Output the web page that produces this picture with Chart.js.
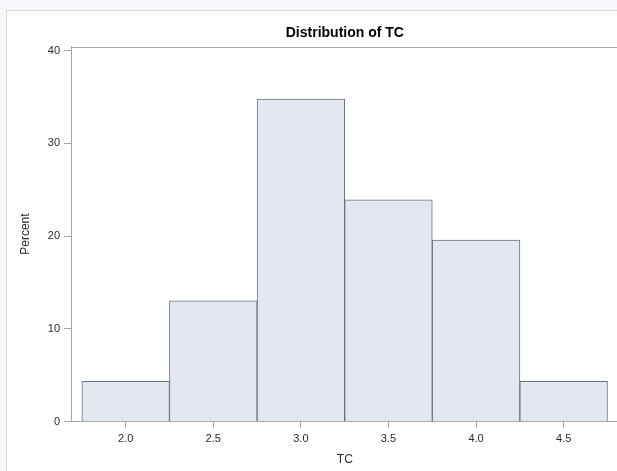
<!DOCTYPE html>
<html>
<head>
<meta charset="utf-8">
<script src="https://cdn.jsdelivr.net/npm/chart.js@4.4.1/dist/chart.umd.min.js"></script>
<style>
  html, body { margin: 0; padding: 0; overflow: hidden; background: #f5f7fb; width: 617px; height: 471px; }
  #frame { position: absolute; left: 6px; top: 10px; width: 700px; height: 500px; background: #fff; border: 1px solid #d4d7dd; }
  #histChart { position: absolute; left: 0; top: 0; }
</style>
</head>
<body>
<div id="frame"></div>
<canvas id="histChart" width="640" height="471"></canvas>
<script>
// Data
const binMidpoints = [2.0, 2.5, 3.0, 3.5, 4.0, 4.5];
const percentValues = [4.35, 13.04, 34.78, 23.91, 19.57, 4.35];
const xTickValues = [2.0, 2.5, 3.0, 3.5, 4.0, 4.5];
const yTickValues = [0, 10, 20, 30, 40];
const chartTitle = 'Distribution of TC';
const xAxisLabel = 'TC';
const yAxisLabel = 'Percent';

// Styles
const fontFamily = '"Liberation Sans", Arial, sans-serif';
const axisColor = '#a3a6ab';
const textColor = '#2b2b2b';

// Title + top frame line, centred on the plot area like SAS does
const plotFrame = {
    id: 'plotFrame',
    afterDraw(chart) {
        const { ctx, chartArea } = chart;
        ctx.save();
        ctx.strokeStyle = axisColor;
        ctx.lineWidth = 1;
        const y = Math.round(chartArea.top) + 0.5;
        ctx.beginPath();
        ctx.moveTo(chartArea.left, y);
        ctx.lineTo(chartArea.right, y);
        ctx.stroke();

        ctx.fillStyle = '#000';
        ctx.font = 'bold 14px ' + fontFamily;
        ctx.textAlign = 'center';
        ctx.textBaseline = 'alphabetic';
        ctx.fillText(chartTitle, (chartArea.left + chartArea.right) / 2, chartArea.top - 10);
        ctx.restore();
    }
};

const ctx = document.getElementById('histChart').getContext('2d');

const histChart = new Chart(ctx, {
    type: 'bar',
    data: {
        datasets: [{
            label: yAxisLabel,
            data: binMidpoints.map((x, i) => ({ x: x, y: percentValues[i] })),
            backgroundColor: '#e3e7f0',
            borderColor: '#6f737a',
            borderWidth: 1,
            barPercentage: 1,
            categoryPercentage: 1
        }]
    },
    options: {
        responsive: false,
        animation: false,
        devicePixelRatio: 1,
        layout: { padding: { top: 46.5, right: 21.3, bottom: 0, left: 0 } },
        plugins: {
            legend: { display: false },
            tooltip: { enabled: false },
            title: { display: false }
        },
        scales: {
            x: {
                type: 'linear',
                min: 1.688,
                max: 4.814,
                offset: false,
                afterBuildTicks: s => { s.ticks = xTickValues.map(v => ({ value: v })); },
                afterFit: s => { s.height = 49.3; },
                grid: { offset: false, drawOnChartArea: false, drawTicks: true, tickLength: 6, color: axisColor },
                border: { color: axisColor },
                ticks: {
                    padding: 5,
                    color: textColor,
                    autoSkip: false,
                    maxRotation: 0,
                    font: { family: fontFamily, size: 11 },
                    callback: v => Number(v).toFixed(1)
                },
                title: {
                    display: true,
                    text: xAxisLabel,
                    color: textColor,
                    font: { family: fontFamily, size: 12 },
                    padding: { top: 0, bottom: 4 }
                }
            },
            y: {
                min: 0,
                max: 40.45,
                afterBuildTicks: s => { s.ticks = yTickValues.map(v => ({ value: v })); },
                afterFit: s => { s.width = 71; },
                grid: { drawOnChartArea: false, drawTicks: true, tickLength: 7, color: axisColor },
                border: { color: axisColor },
                ticks: {
                    padding: 4,
                    color: textColor,
                    font: { family: fontFamily, size: 11 }
                },
                title: {
                    display: true,
                    text: yAxisLabel,
                    color: textColor,
                    font: { family: fontFamily, size: 12 },
                    padding: { top: 18, bottom: 0 }
                }
            }
        }
    },
    plugins: [plotFrame]
});
</script>
</body>
</html>
